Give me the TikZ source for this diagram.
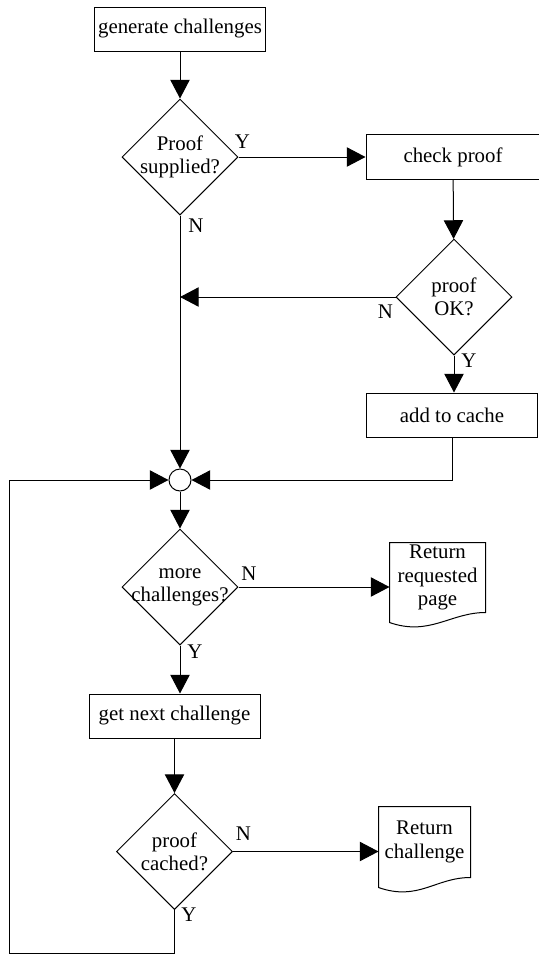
\documentclass[tikz,border=0pt]{standalone}
\usepackage{fontspec}
\setmainfont{Liberation Serif}
\usetikzlibrary{shapes.geometric,arrows.meta,calc}

\begin{document}
\begin{tikzpicture}[x=0.6pt,y=-0.6pt,line width=0.6pt,
			font=\fontsize{12.5}{14}\selectfont,
			arr/.style={-{Triangle[length=11.2pt,width=11.6pt]}},
			box node/.style={rectangle,draw,minimum width=103pt,minimum height=26.4pt,inner xsep=2.4pt},
			decision node/.style={diamond,draw,aspect=1,minimum size=69.6pt,inner sep=-5pt,align=center},
			doc node/.style={rectangle,inner sep=0pt,align=center},
			join node/.style={circle,draw,minimum size=13.2pt,inner sep=0pt},
			lbl/.style={inner sep=0pt}
			]

			\useasboundingbox (0,0) rectangle (538,954);

			\node[box node] at (180,29) (gen) {generate challenges};
			\node[decision node] at (180,157) (supp) {Proof\\supplied?};
			\node[box node,minimum width=104.4pt,minimum height=27pt] at (453,157) (check) {check proof};
			\node[decision node] at (454,297) (ok) {proof\\OK?};
			\node[box node] at (452,415) (cache) {add to cache};
			\node[join node] at (180,480) (join) {};
			\node[decision node] at (180,587) (more) {more\\challenges?};
			\node[doc node,minimum width=57pt,minimum height=41.4pt] at (437.5,577.5) (retpage) {Return\\requested\\page};
			\node[box node,minimum width=102.6pt] at (174.5,716) (next) {get next challenge};
			\node[decision node] at (174.5,851.5) (cached) {proof\\cached?};
			\node[doc node,minimum width=54.6pt,minimum height=42pt] at (424.5,842) (retch) {Return\\challenge};
			\coordinate (corner) at (9.5,953);

			% document outlines
			\foreach \d in {retpage,retch}
				\draw (\d.north west) -- (\d.north east) -- (\d.south east) .. controls +(-35,0) and +(40,14) .. ($(\d.south west)+(0,10)$) -- cycle;

			\draw[arr] (gen) -- (supp);
			\draw[arr] (supp.east) -- node[lbl,pos=0,shift={(4,-15)}] {Y} (check.west);
			\draw[arr] (supp.south) -- node[lbl,pos=0,shift={(16,10)}] {N} (join.north);
			\draw[arr] (check) -- (ok);
			\draw[arr] (ok.west) -- node[lbl,pos=0,shift={(-10,14.5)}] {N} (ok.west -| supp.south);
			\draw[arr] (ok.south) -- node[lbl,pos=0,shift={(15,5.5)}] {Y} (ok.south |- cache.north);
			\draw[arr] (cache.south) |- (join.east);
			\draw[arr] (join) -- (more);
			\draw[arr] (more.east) -- node[lbl,pos=0,shift={(10.5,-13.5)}] {N} (more.east -| retpage.west);
			\draw[arr] (more.south) -- node[lbl,pos=0,shift={(15,6)}] {Y} (more.south |- next.north);
			\draw[arr] (next) -- (cached);
			\draw[arr] (cached.east) -- node[lbl,pos=0,shift={(10.5,-17.5)}] {N} (cached.east -| retch.west);
			\draw[arr] (cached.south) -- node[lbl,pos=0,shift={(14.5,5)}] {Y} (cached.south |- corner) -- (corner) |- (join.west);
		\end{tikzpicture}
\end{document}
